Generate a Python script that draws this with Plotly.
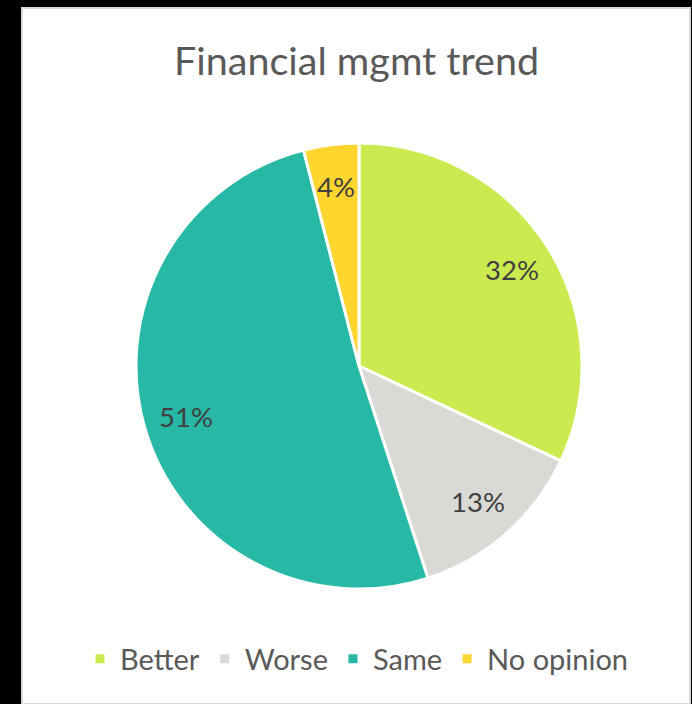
import math
import plotly.graph_objects as go

# Survey responses on the financial management trend (percent)
categories = ["Better", "Worse", "Same", "No opinion"]
values = [32, 13, 51, 4]
colors = ["#CBEA50", "#D9D9D6", "#27B8A6", "#FFD52E"]

W, H = 692, 704
# pie geometry in pixels
cx, cy, R = 359, 366, 223
label_r = 0.81 * R

fig = go.Figure()
fig.add_trace(go.Pie(
    labels=categories,
    values=values,
    sort=False,
    direction="clockwise",
    rotation=0,
    marker=dict(colors=colors, line=dict(color="white", width=3)),
    textinfo="none",
    hoverinfo="label+percent",
    domain=dict(x=[(cx - R) / W, (cx + R) / W],
                y=[1 - (cy + R) / H, 1 - (cy - R) / H]),
))

# value labels along each slice's bisector
total = sum(values)
cum = 0
annotations = []
for v in values:
    mid = (cum + v / 2) / total
    cum += v
    th = 2 * math.pi * mid
    px = cx + label_r * math.sin(th)
    py = cy - label_r * math.cos(th)
    annotations.append(dict(
        x=px / W, y=1 - py / H, xref="paper", yref="paper",
        text=f"{v}%", showarrow=False,
        font=dict(family="Lato", size=27.5, color="#404040"),
        xanchor="center", yanchor="middle",
    ))

# title
annotations.append(dict(
    x=356 / W, y=1 - 60 / H, xref="paper", yref="paper",
    text="Financial mgmt trend", showarrow=False,
    font=dict(family="Lato", size=39.5, color="#595959"),
    xanchor="center", yanchor="middle",
))

fig.update_layout(
    width=W, height=H,
    margin=dict(l=0, r=0, t=0, b=0),
    paper_bgcolor="black",
    plot_bgcolor="white",
    showlegend=True,
    legend=dict(
        orientation="h",
        x=357 / W, xanchor="center",
        y=1 - 659 / H, yanchor="middle",
        font=dict(family="Lato", size=29, color="#595959"),
        bgcolor="rgba(0,0,0,0)",
        itemclick=False,
    ),
    annotations=annotations,
    shapes=[dict(
        type="rect", xref="paper", yref="paper", layer="below",
        x0=22 / W, x1=690 / W, y0=0, y1=1 - 8 / H,
        fillcolor="white", line=dict(color="#D9D9D9", width=2),
    )],
)

fig.write_html("out.html")
